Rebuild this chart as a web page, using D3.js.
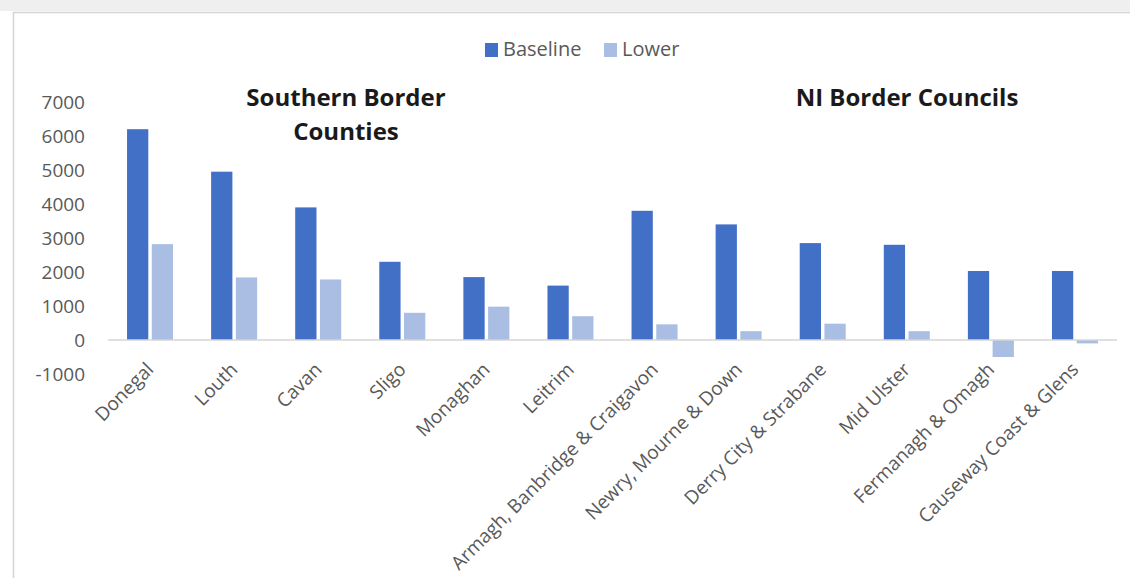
<!DOCTYPE html>
<html>
<head>
<meta charset="utf-8">
<script src="https://cdn.jsdelivr.net/npm/d3@7"></script>
<style>
  html, body { margin: 0; padding: 0; background: #fff; }
  svg { display: block; }
  text { font-family: "Open Sans", "Noto Sans", sans-serif; }
</style>
</head>
<body>
<svg id="chart" width="1130" height="578"></svg>
<script>
// Areas, in chart order
const categories = [
  "Donegal", "Louth", "Cavan", "Sligo", "Monaghan", "Leitrim",
  "Armagh, Banbridge & Craigavon", "Newry, Mourne & Down",
  "Derry City & Strabane", "Mid Ulster", "Fermanagh & Omagh",
  "Causeway Coast & Glens"
];
const seriesNames = ["Baseline", "Lower"];
const baselineValues = [6200, 4950, 3900, 2300, 1850, 1600, 3800, 3400, 2850, 2800, 2030, 2030];
const lowerValues    = [2820, 1840, 1780, 800, 980, 700, 460, 260, 480, 260, -500, -100];
const yTicks = [-1000, 0, 1000, 2000, 3000, 4000, 5000, 6000, 7000];
const groupTitles = [
  { lines: ["Southern Border", "Counties"], cx: 346 },
  { lines: ["NI Border Councils"], cx: 907 }
];

const colors = { Baseline: "#4170C6", Lower: "#A9BEE2" };

const svg = d3.select("#chart");
const W = 1130, H = 578;

// Page strip and frame of the chart area
svg.append("rect").attr("x", 0).attr("y", 0).attr("width", W).attr("height", 11).attr("fill", "#efefef");
svg.append("line").attr("x1", 13).attr("x2", W).attr("y1", 12.5).attr("y2", 12.5).attr("stroke", "#d4d4d4").attr("stroke-width", 1.5);
svg.append("line").attr("x1", 13.5).attr("x2", 13.5).attr("y1", 12).attr("y2", H).attr("stroke", "#d4d4d4").attr("stroke-width", 1.5);

const plot = { left: 108, right: 1117, top: 102, bottom: 374 };

const x = d3.scaleBand().domain(categories).range([plot.left, plot.right]).padding(0);
const x1 = d3.scaleBand().domain(seriesNames).range([-23, 23]).paddingInner(0.14);
const y = d3.scaleLinear().domain([-1000, 7000]).range([plot.bottom, plot.top]);

const rows = categories.map((c, i) => ({ cat: c, Baseline: baselineValues[i], Lower: lowerValues[i] }));

// Y axis labels (no axis line)
const yAxis = d3.axisLeft(y).tickValues(yTicks).tickSize(0).tickPadding(0).tickFormat(d => String(d));
const yG = svg.append("g").attr("transform", `translate(${plot.left - 23},0)`).call(yAxis);
yG.select(".domain").remove();
yG.selectAll("text").attr("fill", "#595959").style("font-size", "19px").style("font-family", "'Open Sans', sans-serif");

// Bars
const groups = svg.append("g").selectAll("g").data(rows).join("g")
  .attr("transform", d => `translate(${x(d.cat) + x.bandwidth() / 2},0)`);
groups.selectAll("rect").data(d => seriesNames.map(s => ({ s, v: d[s] }))).join("rect")
  .attr("x", d => x1(d.s))
  .attr("width", x1.bandwidth())
  .attr("y", d => y(Math.max(0, d.v)))
  .attr("height", d => Math.abs(y(d.v) - y(0)))
  .attr("fill", d => colors[d.s]);

// Zero line
svg.append("line")
  .attr("x1", plot.left).attr("x2", plot.right)
  .attr("y1", y(0)).attr("y2", y(0))
  .attr("stroke", "#d6d6d6").attr("stroke-width", 1.5);

// Category labels, rotated
const xAxis = d3.axisBottom(x).tickSize(0).tickPadding(0);
const xG = svg.append("g").attr("transform", `translate(0,${y(0) + 26})`).call(xAxis);
xG.select(".domain").remove();
xG.selectAll("text")
  .attr("fill", "#595959")
  .style("font-size", "19px")
  .style("font-family", "'Open Sans', sans-serif")
  .attr("text-anchor", "end")
  .attr("dy", "0.35em")
  .attr("transform", "translate(0,0) rotate(-45)");

// Group titles
groupTitles.forEach(g => {
  const t = svg.append("text")
    .attr("x", g.cx).attr("y", 106)
    .attr("text-anchor", "middle")
    .attr("font-weight", "bold")
    .attr("fill", "#1a1a1a")
    .style("font-size", "24px");
  g.lines.forEach((line, i) => {
    t.append("tspan").attr("x", g.cx).attr("dy", i === 0 ? 0 : 34).text(line);
  });
});

// Legend
const legend = svg.append("g").attr("transform", "translate(485,42)");
const lx = [0, 119];
seriesNames.forEach((s, i) => {
  legend.append("rect").attr("x", lx[i]).attr("y", 1).attr("width", 13).attr("height", 14).attr("fill", colors[s]);
  legend.append("text").attr("x", lx[i] + 18).attr("y", 14)
    .attr("fill", "#595959").style("font-size", "20px").text(s);
});
</script>
</body>
</html>
